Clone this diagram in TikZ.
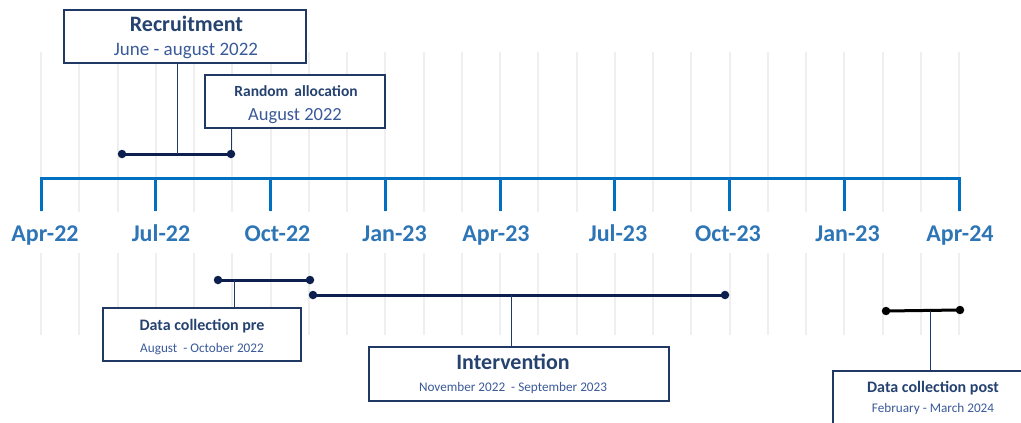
\documentclass[tikz,border=0pt]{standalone}
\usepackage{fontspec}
\setmainfont{Carlito}
\definecolor{axisblue}{HTML}{0070C0}
\definecolor{labelblue}{HTML}{2E75B6}
\definecolor{boxline}{HTML}{1F3864}
\definecolor{barnavy}{HTML}{0C1F4F}
\definecolor{titleblue}{HTML}{264370}
\definecolor{subblue}{HTML}{3B5A9A}
\definecolor{gridgray}{HTML}{EFEFEF}
\begin{document}
\begin{tikzpicture}[x=1pt,y=-1pt,
  gridline/.style={draw=gridgray,line width=2pt},
  axisline/.style={draw=axisblue,line width=3pt},
  axislabel/.style={anchor=base,inner sep=0pt,text=labelblue,font=\fontsize{24}{28}\selectfont\bfseries},
  eventbox/.style={draw=boxline,line width=2pt,fill=white,rectangle,inner sep=0pt},
  boxtitle/.style={anchor=base,inner sep=0pt,text=titleblue,font=\bfseries},
  boxsub/.style={anchor=base,inner sep=0pt,text=subblue},
  dot/.style={circle,fill=barnavy,inner sep=0pt,minimum size=8.5pt},
  blackdot/.style={circle,fill=black,inner sep=0pt,minimum size=8.5pt},
  bar/.style={draw=barnavy,line width=3pt},
  blackbar/.style={draw=black,line width=3pt},
  leader/.style={draw=boxline,line width=1pt},
]
\useasboundingbox (0,0) rectangle (1021,423);
\clip (0,0) rectangle (1021,423);

% monthly grid
\foreach \k in {0,...,24}{
  \draw[gridline] ({41+38.25*\k},52) -- ({41+38.25*\k},212);
  \draw[gridline] ({41+38.25*\k},253) -- ({41+38.25*\k},335);
}

% quarterly axis with ticks
\draw[axisline,line join=miter] (41,211) -- (41,178.5) -- (959,178.5) -- (959,211);
\foreach \k in {1,...,7}{
  \draw[axisline] ({41+114.75*\k},178.5) -- ({41+114.75*\k},211);
}

% axis labels
\node[axislabel] (lab1) at (45,241) {Apr-22};
\node[axislabel] (lab2) at (161,241) {Jul-22};
\node[axislabel] (lab3) at (277.5,241) {Oct-22};
\node[axislabel] (lab4) at (394.5,241) {Jan-23};
\node[axislabel] (lab5) at (496,241) {Apr-23};
\node[axislabel] (lab6) at (618,241) {Jul-23};
\node[axislabel] (lab7) at (728,241) {Oct-23};
\node[axislabel] (lab8) at (847.5,241) {Jan-23};
\node[axislabel] (lab9) at (960,241) {Apr-24};

% Recruitment
\node[dot] (r1) at (122,154) {};
\node[dot] (r2) at (231,154) {};
\draw[bar] (r1.center) -- (r2.center);
\coordinate (rmid) at (177,154);
\node[eventbox,minimum width=242pt,minimum height=53pt] (rec) at (185,36.5) {};
\draw[leader] (rmid) -- (rmid |- rec.south);
\node[boxtitle,font=\fontsize{22}{26}\selectfont\bfseries] (rect) at (186.5,31.5) {Recruitment};
\node[boxsub,font=\fontsize{19}{23}\selectfont] (recs) at (186,55) {June - august 2022};

% Random allocation
\node[eventbox,minimum width=180pt,minimum height=53pt] (ra) at (295,101.5) {};
\draw[leader] (r2) -- (r2 |- ra.south);
\node[boxtitle,font=\fontsize{15.5}{19}\selectfont\bfseries] (rat) at (296,96) {Random\, allocation};
\node[boxsub,font=\fontsize{18.5}{22}\selectfont] (ras) at (295,120) {August 2022};

% Data collection pre
\node[dot] (d1) at (218,280) {};
\node[dot] (d2) at (310,280) {};
\draw[bar] (d1.center) -- (d2.center);
\coordinate (dmid) at (234,280);
\node[eventbox,minimum width=198pt,minimum height=53pt] (pre) at (202,334.5) {};
\draw[leader] (dmid) -- (dmid |- pre.north);
\node[boxtitle,font=\fontsize{16}{19}\selectfont\bfseries] (pret) at (202,330) {Data collection pre};
\node[boxsub,font=\fontsize{13.2}{16}\selectfont] (pres) at (202,352.3) {August\ \ - October 2022};

% Intervention
\node[dot] (i1) at (313,295) {};
\node[dot] (i2) at (725,295) {};
\draw[bar] (i1.center) -- (i2.center);
\coordinate (imid) at (511,295);
\node[eventbox,minimum width=300pt,minimum height=54pt] (int) at (519,374) {};
\draw[leader] (imid) -- (imid |- int.north);
\node[boxtitle,font=\fontsize{22}{26}\selectfont\bfseries] (intt) at (513,369.3) {Intervention};
\node[boxsub,font=\fontsize{13.2}{16}\selectfont] (ints) at (513,391) {November 2022\ \ - September 2023};

% Data collection post
\node[blackdot] (p1) at (886,311) {};
\node[blackdot] (p2) at (960,310) {};
\draw[blackbar] (p1.center) -- (p2.center);
\coordinate (pmid) at (930,310.6);
\node[eventbox,minimum width=206pt,minimum height=58pt,anchor=north west] (post) at (832,369.5) {};
\draw[leader] (pmid) -- (pmid |- post.north);
\node[boxtitle,font=\fontsize{16}{19}\selectfont\bfseries] (postt) at (933,392.3) {Data collection post};
\node[boxsub,font=\fontsize{13.2}{16}\selectfont] (posts) at (933,412.3) {February - March 2024};
\end{tikzpicture}
\end{document}
